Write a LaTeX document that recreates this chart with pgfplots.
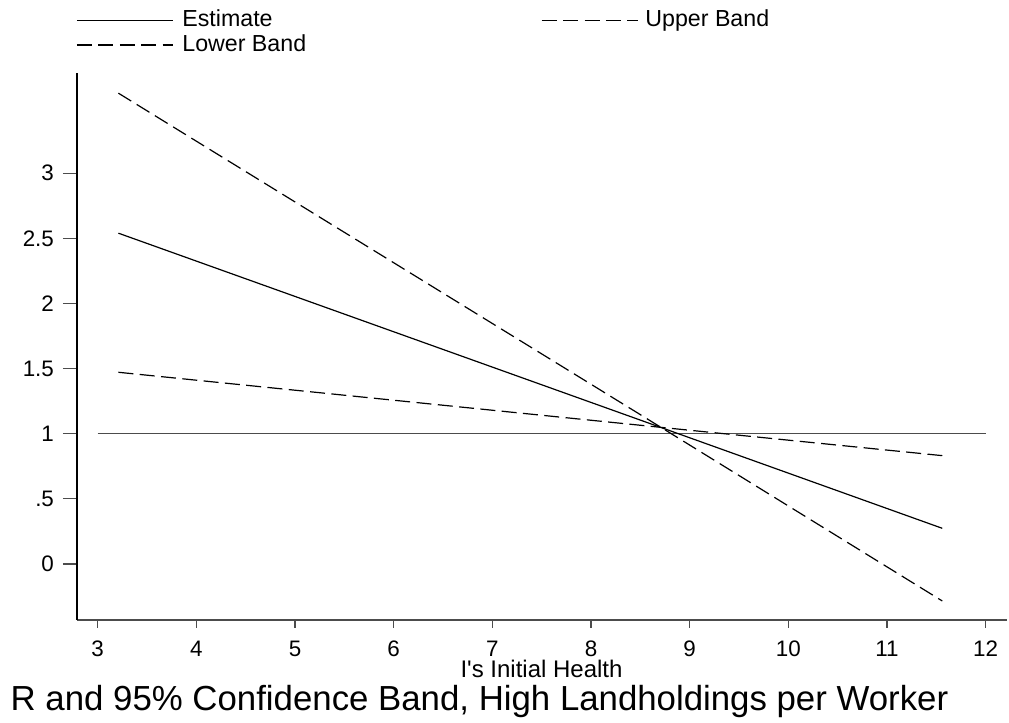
\documentclass[border=0pt]{standalone}
\usepackage{fontspec}
\setmainfont{Liberation Sans}
\usepackage{pgfplots}
\pgfplotsset{compat=1.18}
\begin{document}
\begin{tikzpicture}
\path (-38.5pt,-51.5pt) rectangle (466pt,310pt);
\begin{axis}[
  at={(0,0)}, anchor=south west,
  scale only axis, width=465pt, height=273.5pt,
  xmin=2.790, xmax=12.216, ymin=-0.430, ymax=3.770,
  axis x line*=bottom, axis y line*=left,
  x axis line style={black!70, line width=0.6pt, -},
  y axis line style={black, line width=0.6pt, -},
  tick align=outside, major tick length=7pt,
  x tick style={black!70, line width=0.6pt, /pgfplots/major tick length=4pt},
  y tick style={black!70, line width=0.6pt},
  xtick={3,4,5,6,7,8,9,10,11,12},
  ytick={0,0.5,1,1.5,2,2.5,3},
  yticklabels={0,.5,1,1.5,2,2.5,3},
  /pgf/number format/assume math mode=true,
  ticklabel style={font=\fontsize{11.2}{13}\selectfont},
  yticklabel style={xshift=-1pt},
  clip=false,
]
\addplot[black!70, line width=0.6pt] coordinates {(3,1) (12,1)};
\addplot[black, line width=0.6pt] coordinates {(3.21,2.540) (8.75,1.037) (11.56,0.274)};
\addplot[black, line width=0.6pt, dash pattern=on 7.5pt off 3.2pt] coordinates {(3.21,3.615) (8.75,1.030) (11.56,-0.284)};
\addplot[black, line width=0.6pt, dash pattern=on 7.5pt off 3.2pt] coordinates {(3.21,1.472) (8.75,1.046) (11.56,0.832)};
\end{axis}
% legend
\draw[black, line width=0.6pt] (0pt,299.75pt) -- (48pt,299.75pt);
\node[anchor=base west, inner sep=0pt, font=\fontsize{11.6}{13}\selectfont] at (52.5pt,296.6pt) {Estimate};
\draw[black, line width=0.6pt, dash pattern=on 7.5pt off 3.2pt] (0pt,287.5pt) -- (48pt,287.5pt);
\node[anchor=base west, inner sep=0pt, font=\fontsize{11.6}{13}\selectfont] at (52.5pt,284.15pt) {Lower Band};
\draw[black, line width=0.6pt, dash pattern=on 7.5pt off 3.2pt] (232.35pt,299.75pt) -- (280.5pt,299.75pt);
\node[anchor=base west, inner sep=0pt, font=\fontsize{11.6}{13}\selectfont] at (284pt,296.6pt) {Upper Band};
% x label
\node[anchor=base, inner sep=0pt, font=\fontsize{12}{14}\selectfont] at (232.25pt,-29pt) {I\textquotesingle s Initial Health};
% title
\node[anchor=base, inner sep=0pt, font=\fontsize{17.4}{20}\selectfont] at (201.25pt,-45.5pt) {R and 95\% Confidence Band, High Landholdings per Worker};
\end{tikzpicture}
\end{document}
